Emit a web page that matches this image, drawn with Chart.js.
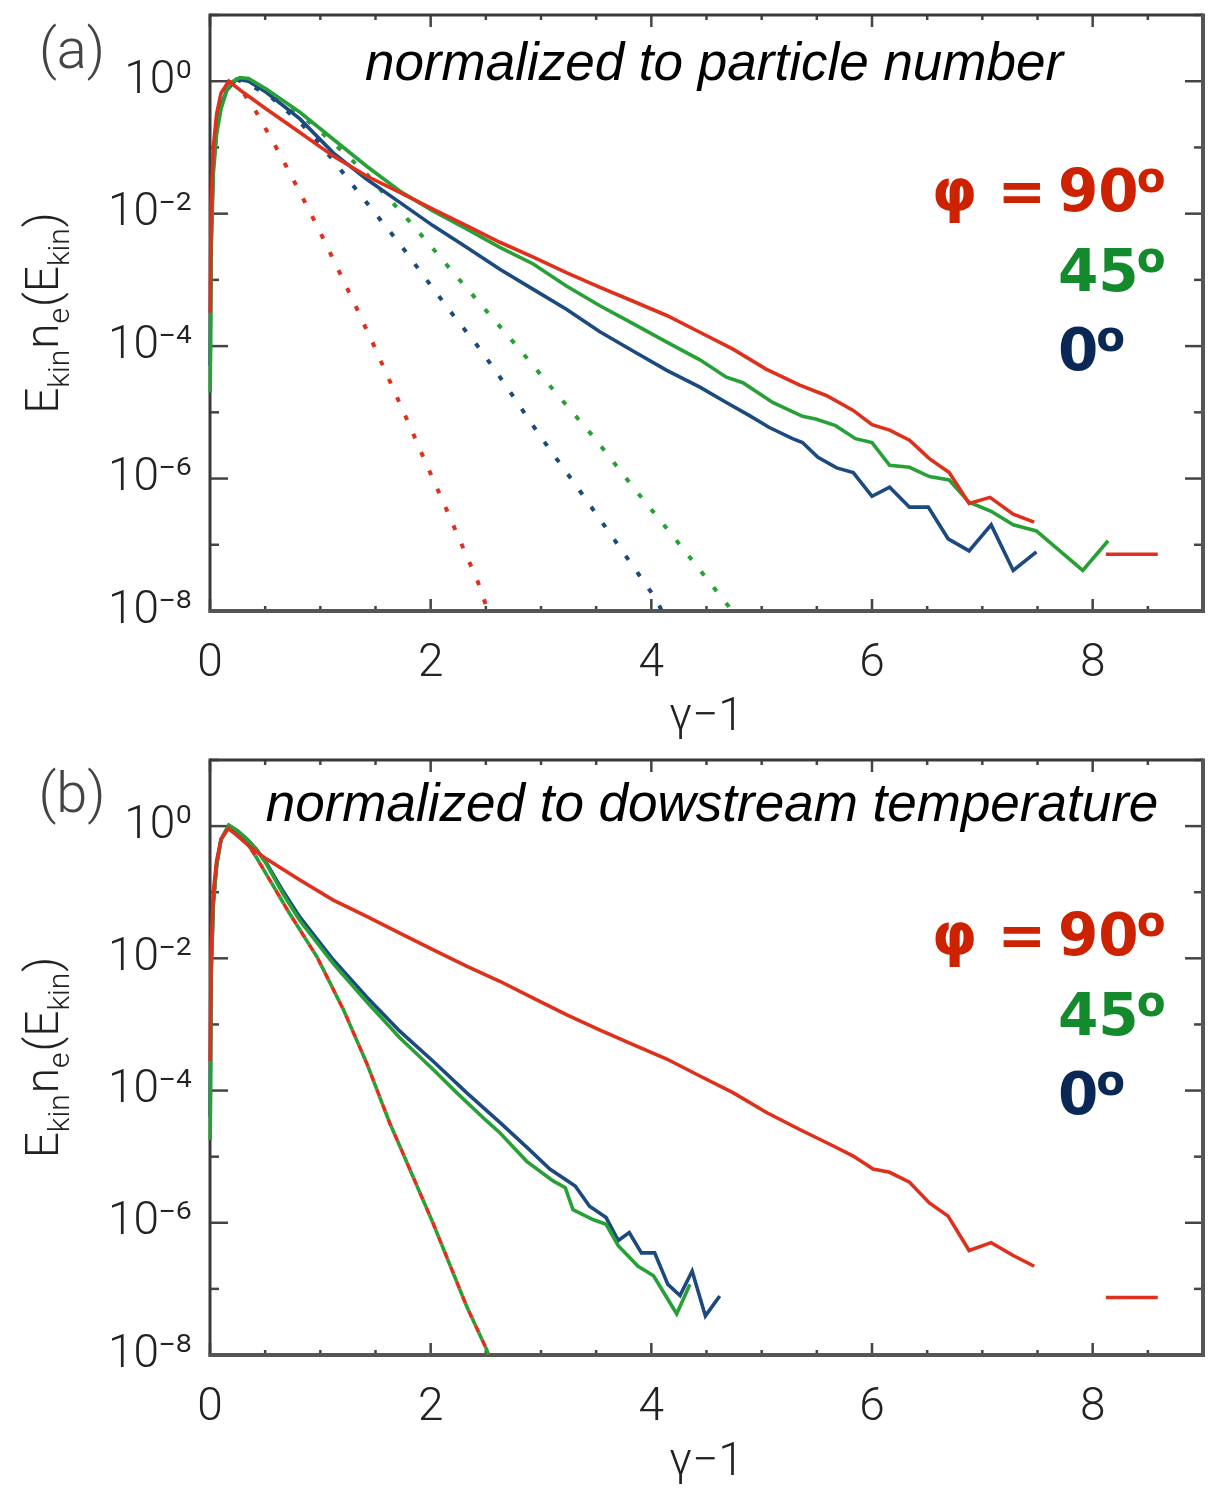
<!DOCTYPE html>
<html><head><meta charset="utf-8">
<script src="https://cdn.jsdelivr.net/npm/chart.js@4.4.1/dist/chart.umd.min.js"></script>
<style>
html,body{margin:0;padding:0;background:#fff;}
#wrap{position:relative;width:1218px;height:1488px;overflow:hidden;}
canvas{position:absolute;left:0;}
#ca{top:0}
#cb{top:745px}
</style></head><body><div id="wrap"><canvas id="ca" width="1218" height="744"></canvas><canvas id="cb" width="1218" height="743"></canvas></div>
<script>
// ---------- axes ----------
const xTickValues = [0,0.5,1,1.5,2,2.5,3,3.5,4,4.5,5,5.5,6,6.5,7,7.5,8,8.5,9];
const xTickLabels = ['0','','','','2','','','','4','','','','6','','','','8','',''];
const yTickValues = [1e-8,1e-7,1e-6,1e-5,1e-4,1e-3,1e-2,1e-1,1e0,1e1];
const yTickLabels = ['10⁻⁸','','10⁻⁶','','10⁻⁴','','10⁻²','','10⁰',''];

// ---------- panel (a): normalized to particle number ----------
const redA_x = [0.002,0.01,0.03,0.06,0.1,0.17,0.3,0.51,0.815,1.117,1.42,1.72,2.02,2.325,2.627,2.93,3.23,3.53,3.83,4.14,4.44,4.74,5.04,5.34,5.59,5.83,6.0,6.16,6.34,6.52,6.70,6.88,7.07,7.28,7.47,7.8,8.12,8.35,8.59];
const redA_y = [3.2e-4,1.3e-2,0.1,0.32,0.66,1.0,0.68,0.38,0.168,0.074,0.037,0.021,0.0117,6.6e-3,3.7e-3,2.2e-3,1.29e-3,7.8e-4,4.8e-4,2.9e-4,1.62e-4,9.0e-5,4.5e-5,2.6e-5,1.78e-5,1.07e-5,6.5e-6,5.4e-6,3.8e-6,2.0e-6,1.23e-6,4.2e-7,5.2e-7,2.9e-7,2.2e-7,null,7.2e-8,7.2e-8,7.2e-8];

const greenA_x = [0.002,0.01,0.03,0.06,0.1,0.15,0.2,0.27,0.35,0.51,0.815,1.117,1.42,1.72,2.02,2.325,2.627,2.93,3.23,3.53,3.83,4.14,4.44,4.68,4.83,5.10,5.37,5.49,5.67,5.85,6.0,6.16,6.34,6.52,6.70,6.88,7.08,7.28,7.49,7.91,8.14];
const greenA_y = [2.0e-5,2.5e-3,0.04,0.16,0.38,0.71,0.98,1.13,1.1,0.76,0.34,0.133,0.052,0.022,0.011,5.9e-3,3.1e-3,1.74e-3,8.1e-4,4.1e-4,2.2e-4,1.15e-4,6.2e-5,3.4e-5,2.8e-5,1.41e-5,8.7e-6,7.9e-6,6.3e-6,4.0e-6,3.5e-6,1.58e-6,1.48e-6,1.07e-6,9.5e-7,4.4e-7,3.2e-7,2.0e-7,1.62e-7,4.1e-8,1.15e-7];

const blueA_x = [0.002,0.01,0.03,0.06,0.1,0.15,0.24,0.35,0.51,0.815,1.117,1.42,1.72,2.02,2.325,2.627,2.93,3.23,3.53,3.83,4.14,4.44,4.68,4.89,5.07,5.28,5.37,5.51,5.68,5.83,6.0,6.16,6.34,6.51,6.69,6.88,7.08,7.28,7.49];
const blueA_y = [5.0e-5,4.0e-3,0.05,0.178,0.42,0.72,1.07,1.0,0.68,0.27,0.083,0.033,0.0148,6.6e-3,3.1e-3,1.45e-3,7.2e-4,3.6e-4,1.66e-4,8.5e-5,4.3e-5,2.4e-5,1.41e-5,8.9e-6,5.9e-6,4.0e-6,3.5e-6,2.1e-6,1.45e-6,1.23e-6,5.4e-7,7.4e-7,3.7e-7,3.7e-7,1.23e-7,8.1e-8,2.0e-7,4.1e-8,7.8e-8];

const redFitA_x = [0.17,0.3,0.42,0.634,0.815,1.0,1.15,1.33,1.48,1.645,1.81,1.96,2.12,2.28,2.43,2.53];
const redFitA_y = [1.0,0.68,0.34,0.079,0.021,5.2e-3,1.58e-3,3.7e-4,1.07e-4,2.6e-5,6.3e-6,1.66e-6,4.2e-7,1.02e-7,2.7e-8,8.9e-9];

const blueFitA_x = [0.24,0.51,0.815,1.0,1.24,1.48,1.72,1.96,2.2,2.45,2.67,3.0,3.35,3.68,4.03,4.09];
const blueFitA_y = [1.07,0.66,0.24,0.112,0.035,0.011,3.5e-3,1.02e-3,3.0e-4,8.9e-5,2.7e-5,4.2e-6,6.6e-7,1.1e-7,1.62e-8,1.05e-8];

const greenFitA_x = [0.27,0.51,0.815,1.117,1.42,1.555,1.72,1.96,2.23,2.48,2.75,2.96,3.11,3.49,3.85,4.23,4.72,4.75];
const greenFitA_y = [1.13,0.74,0.32,0.117,0.04,0.022,0.0112,3.9e-3,1.15e-3,3.8e-4,1.15e-4,4.4e-5,2.2e-5,4.0e-6,6.9e-7,1.15e-7,1.07e-8,9.3e-9];

// ---------- panel (b): normalized to downstream temperature ----------
const redB_x = [0.002,0.01,0.03,0.06,0.1,0.166,0.25,0.36,0.51,0.815,1.117,1.42,1.72,2.02,2.325,2.627,2.93,3.23,3.53,3.83,4.14,4.44,4.74,5.04,5.34,5.65,5.83,6.01,6.16,6.34,6.52,6.69,6.88,7.08,7.28,7.47,7.8,8.12,8.35,8.59];
const redB_y = [2.8e-4,0.0126,0.1,0.30,0.63,0.92,0.71,0.49,0.32,0.153,0.076,0.043,0.024,0.0135,7.6e-3,4.5e-3,2.5e-3,1.41e-3,8.3e-4,5.0e-4,3.0e-4,1.66e-4,9.3e-5,4.7e-5,2.6e-5,1.45e-5,1.02e-5,6.5e-6,5.8e-6,4.1e-6,2.0e-6,1.26e-6,3.8e-7,5.0e-7,3.2e-7,2.2e-7,null,7.4e-8,7.4e-8,7.4e-8];

const greenB_x = [0.002,0.01,0.03,0.06,0.1,0.17,0.25,0.33,0.42,0.51,0.66,0.815,1.117,1.42,1.72,2.02,2.235,2.505,2.627,2.87,3.11,3.22,3.29,3.47,3.59,3.70,3.88,4.02,4.23,4.35];
const greenB_y = [1.8e-5,5.0e-3,0.063,0.25,0.63,1.04,0.85,0.65,0.44,0.27,0.095,0.037,8.3e-3,2.2e-3,6.3e-4,2.1e-4,9.3e-5,3.5e-5,2.3e-5,8.5e-6,4.3e-6,3.4e-6,1.58e-6,1.12e-6,9.5e-7,4.5e-7,2.2e-7,1.58e-7,4.2e-8,1.17e-7];

const blueB_x = [0.002,0.01,0.03,0.06,0.1,0.17,0.25,0.33,0.42,0.51,0.66,0.815,1.117,1.42,1.72,2.02,2.325,2.627,2.88,3.08,3.31,3.44,3.59,3.70,3.80,3.91,4.03,4.15,4.26,4.37,4.49,4.62];
const blueB_y = [4.0e-5,6.3e-3,0.071,0.26,0.63,1.02,0.83,0.65,0.45,0.28,0.105,0.042,9.5e-3,2.6e-3,7.9e-4,2.8e-4,9.3e-5,3.3e-5,1.35e-5,6.5e-6,3.6e-6,1.78e-6,1.2e-6,5.4e-7,7.1e-7,3.5e-7,3.5e-7,1.17e-7,7.9e-8,1.86e-7,3.9e-8,7.8e-8];

const fitB_x = [0.17,0.3,0.41,0.72,0.97,1.21,1.42,1.63,1.72,2.02,2.325,2.505,2.53];
const fitB_y = [1.0,0.68,0.36,0.048,0.0105,1.66e-3,2.6e-4,3.2e-5,1.45e-5,1.0e-6,5.5e-8,1.23e-8,9.5e-9];

// ---------- labels ----------
const panelLabels = ['(a)','(b)'];
const panelNotes = ['normalized to particle number','normalized to dowstream temperature'];
const legendPrefix = ['φ =','',''];
const legendValues = ['90','45','0'];
const legendColors = ['#cc2200','#138a2c','#0a2856'];

const RED = '#de311d', GREEN = '#27a137', BLUE = '#1d4a7e';
const THIN = '300 46px Roboto, "Liberation Sans", sans-serif';

function pts(xs, ys){ return xs.map((x,i)=>({x:x, y:ys[i]})); }

function line(ctx,x1,y1,x2,y2){ ctx.beginPath(); ctx.moveTo(x1,y1); ctx.lineTo(x2,y2); ctx.stroke(); }

const deco = {
  id:'deco',
  beforeDatasetsDraw(chart, args, o){
    const {ctx, chartArea:a, scales:{x,y}} = chart;
    ctx.save();
    ctx.strokeStyle = '#444'; ctx.lineWidth = 2.5; ctx.lineCap='butt';
    xTickValues.forEach((v,i)=>{
      const px = x.getPixelForValue(v);
      const L = xTickLabels[i] !== '' ? 12 : 5;
      line(ctx,px,a.bottom,px,a.bottom-L);
      line(ctx,px,a.top,px,a.top+L);
    });
    yTickValues.forEach((v,i)=>{
      const py = y.getPixelForValue(v);
      const L = yTickLabels[i] !== '' ? 18 : 9;
      line(ctx,a.left,py,a.left+L,py);
      line(ctx,a.right,py,a.right-L,py);
    });
    ctx.strokeStyle = '#3a3a3a'; ctx.lineWidth = 3;
    line(ctx,a.left,a.top,a.right,a.top);
    line(ctx,a.left,a.top-1.5,a.left,a.bottom+1.5);
    ctx.strokeStyle = '#555'; ctx.lineWidth = 4;
    line(ctx,a.right,a.top-1.5,a.right,a.bottom+2);
    line(ctx,a.left-1.5,a.bottom,a.right+2,a.bottom);
    ctx.restore();
  },
  afterDraw(chart, args, o){
    const {ctx, chartArea:a} = chart;
    const p = o.panel;
    ctx.save();
    ctx.fillStyle = '#444'; ctx.font = '300 56px Roboto, "Liberation Sans", sans-serif';
    ctx.textAlign='center'; ctx.textBaseline='alphabetic';
    ctx.fillText(panelLabels[p], 72, o.labelBase);
    ctx.fillStyle = '#000'; ctx.font = 'italic 53px "Liberation Sans", Arial, sans-serif';
    ctx.fillText(panelNotes[p], o.noteX, o.noteBase);
    ctx.fillStyle = '#222'; ctx.font = THIN; ctx.textBaseline='middle';
    ctx.fillText('γ−1', (a.left+a.right)/2, 718);
    const parts = [['E',0],['kin',1],['n',0],['e',1],['(',0],['E',0],['kin',1],[')',0]];
    const fMain = '300 46px Roboto, "Liberation Sans", sans-serif';
    const fSub = '300 30px Roboto, "Liberation Sans", sans-serif';
    let tot = 0;
    parts.forEach(q=>{ ctx.font = q[1]?fSub:fMain; tot += ctx.measureText(q[0]).width + (q[1]?1:0); });
    ctx.translate(58, (a.top+a.bottom)/2);
    ctx.rotate(-Math.PI/2);
    ctx.textAlign='left'; ctx.textBaseline='alphabetic';
    let cx = -tot/2;
    parts.forEach(q=>{ ctx.font = q[1]?fSub:fMain; ctx.fillText(q[0], cx, q[1]?11:0); cx += ctx.measureText(q[0]).width + (q[1]?1:0); });
    ctx.setTransform(1,0,0,1,0,0);
    const fL = 'bold 58px "DejaVu Sans", "Liberation Sans", sans-serif';
    const fS = 'bold 42px "DejaVu Sans", "Liberation Sans", sans-serif';
    legendValues.forEach((val,i)=>{
      const by = o.legBase + i*79.5;
      ctx.fillStyle = legendColors[i];
      ctx.font = fL; ctx.textAlign='left';
      ctx.fillText(val, 1058, by);
      const w = ctx.measureText(val).width;
      ctx.font = fS; ctx.fillText('o', 1058 + w - 2, by - 19);
      if (legendPrefix[i]) { ctx.font = fL; ctx.textAlign='right'; ctx.fillText(legendPrefix[i], 1046, by); }
    });
    ctx.restore();
  }
};

function ds(label, xs, ys, color, extra){
  return Object.assign({label, data: pts(xs,ys), borderColor: color, backgroundColor: color,
    borderWidth: 3.6, pointRadius: 0, tension: 0, fill: false, spanGaps: false,
    clip: {left: 3, top: 0, right: 0, bottom: 0}}, extra || {});
}

function makeChart(id, datasets, decoOpts){
  return new Chart(document.getElementById(id), {
    type: 'line',
    data: { datasets },
    options: {
      responsive: false, animation: false, devicePixelRatio: 1,
      layout: { padding: { top: 15, right: 15, left: 0, bottom: 0 } },
      plugins: { legend: {display:false}, tooltip: {enabled:false}, deco: decoOpts },
      scales: {
        x: { type:'linear', min:0, max:9,
             grid:{display:false, drawTicks:false}, border:{display:false},
             afterBuildTicks: s => { s.ticks = xTickValues.map(v=>({value:v})); },
             afterFit: s => { s.height = 133; s.paddingLeft = 0; s.paddingRight = 0; },
             ticks: { autoSkip:false, maxRotation:0, minRotation:0, padding: 26, color:'#222',
                      font:{family:'Roboto, "Liberation Sans", sans-serif', size:46, weight:300},
                      callback: (v,i) => xTickLabels[i] } },
        y: { type:'logarithmic', min:1e-8, max:10,
             grid:{display:false, drawTicks:false}, border:{display:false},
             afterBuildTicks: s => { s.ticks = yTickValues.map(v=>({value:v})); },
             afterFit: s => { s.width = 210; s.paddingTop = 0; s.paddingBottom = 0; },
             ticks: { autoSkip:false, padding: 18, color:'#222',
                      font:{family:'Roboto, "Liberation Sans", sans-serif', size:46, weight:300},
                      callback: (v,i) => yTickLabels[i] } }
      }
    },
    plugins: [deco]
  });
}

makeChart('ca', [
  ds('φ = 90°', redA_x, redA_y, RED),
  ds('45°', greenA_x, greenA_y, GREEN),
  ds('0°', blueA_x, blueA_y, BLUE),
  ds('90° Maxwellian', redFitA_x, redFitA_y, RED, {borderWidth:4, borderDash:[5,15]}),
  ds('0° Maxwellian', blueFitA_x, blueFitA_y, BLUE, {borderWidth:4, borderDash:[5,15]}),
  ds('45° Maxwellian', greenFitA_x, greenFitA_y, GREEN, {borderWidth:4, borderDash:[5,15]})
], {panel:0, labelBase:68, noteX:714, noteBase:80, legBase:211});

makeChart('cb', [
  ds('φ = 90°', redB_x, redB_y, RED),
  ds('45°', greenB_x, greenB_y, GREEN),
  ds('0°', blueB_x, blueB_y, BLUE),
  ds('45° Maxwellian', fitB_x, fitB_y, GREEN, {borderDash:[8,8], borderDashOffset:8}),
  ds('90° Maxwellian', fitB_x, fitB_y, RED, {borderDash:[8,8]})
], {panel:1, labelBase:67, noteX:712, noteBase:76, legBase:210});
</script></body></html>
